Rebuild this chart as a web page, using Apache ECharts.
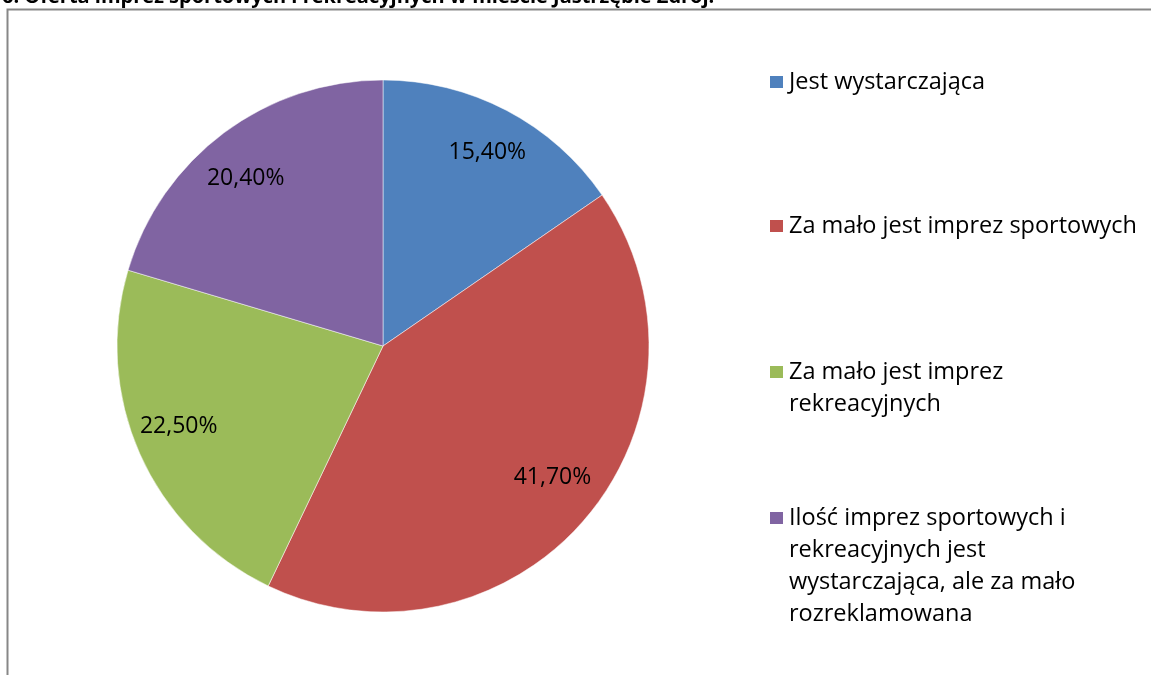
<!DOCTYPE html>
<html>
<head>
<meta charset="utf-8">
<script src="https://cdn.jsdelivr.net/npm/echarts@6/dist/echarts.min.js"></script>
<style>
  html, body { margin: 0; padding: 0; background: #fff; }
  #chart { width: 1151px; height: 675px; }
</style>
</head>
<body>
<div id="chart"></div>
<script>
// dane z wykresu
var categories = [
  'Jest wystarczająca',
  'Za mało jest imprez sportowych',
  'Za mało jest imprez rekreacyjnych',
  'Ilość imprez sportowych i rekreacyjnych jest wystarczająca, ale za mało rozreklamowana'
];
var values = [15.4, 41.7, 22.5, 20.4];
var legendLines = [
  ['Jest wystarczająca'],
  ['Za mało jest imprez sportowych'],
  ['Za mało jest imprez', 'rekreacyjnych'],
  ['Ilość imprez sportowych i', 'rekreacyjnych jest', 'wystarczająca, ale za mało', 'rozreklamowana']
];
var colors = ['#4F81BD', '#C0504D', '#9BBB59', '#8064A2'];
// przesunięcie etykiet względem środka wycinka (styl)
var labelShift = [[41, -73], [66, 43], [-80, 25], [-56, -59]];
var legendTops = [82, 226, 372, 518];

var FONT = 'Open Sans';
var LINE = 32;

var chart = echarts.init(document.getElementById('chart'));

// osobna legenda dla kazdej pozycji, ikona przy pierwszej linii
var legends = categories.map(function (name, i) {
  var n = legendLines[i].length;
  var pad = new Array(n).join('\n');
  return {
    orient: 'vertical',
    left: 768,
    top: legendTops[i] - LINE / 2 - (n - 1) * LINE,
    padding: 0,
    itemWidth: 15,
    itemHeight: 14,
    itemGap: 6,
    icon: 'rect',
    selectedMode: false,
    data: [name],
    formatter: function () { return pad + legendLines[i].join('\n'); },
    textStyle: {
      color: '#000',
      fontFamily: FONT,
      fontSize: 23.5,
      lineHeight: LINE
    }
  };
});

var option = {
  color: colors,
  animation: false,
  title: {
    text: '6. Oferta imprez sportowych i rekreacyjnych w mieście Jastrzębie Zdrój.',
    left: 2,
    top: -13,
    padding: 0,
    textStyle: { fontFamily: FONT, fontWeight: 'bold', fontSize: 20, color: '#000' }
  },
  graphic: [{
    type: 'rect',
    left: 5,
    top: 7,
    shape: { width: 1300, height: 800 },
    style: { fill: 'none', stroke: '#878787', lineWidth: 2 },
    silent: true
  }],
  legend: legends,
  series: [{
    type: 'pie',
    center: [383, 346],
    radius: 266,
    startAngle: 90,
    clockwise: true,
    avoidLabelOverlap: false,
    itemStyle: { borderColor: '#fff', borderWidth: 0.5 },
    label: {
      show: true,
      position: 'inside',
      color: '#000',
      fontFamily: FONT,
      fontSize: 23,
      formatter: function (p) { return p.value.toFixed(2).replace('.', ',') + '%'; }
    },
    labelLine: { show: false },
    emphasis: { disabled: true },
    data: categories.map(function (name, i) {
      return { name: name, value: values[i], label: { offset: labelShift[i] } };
    })
  }]
};

chart.setOption(option);
</script>
</body>
</html>
